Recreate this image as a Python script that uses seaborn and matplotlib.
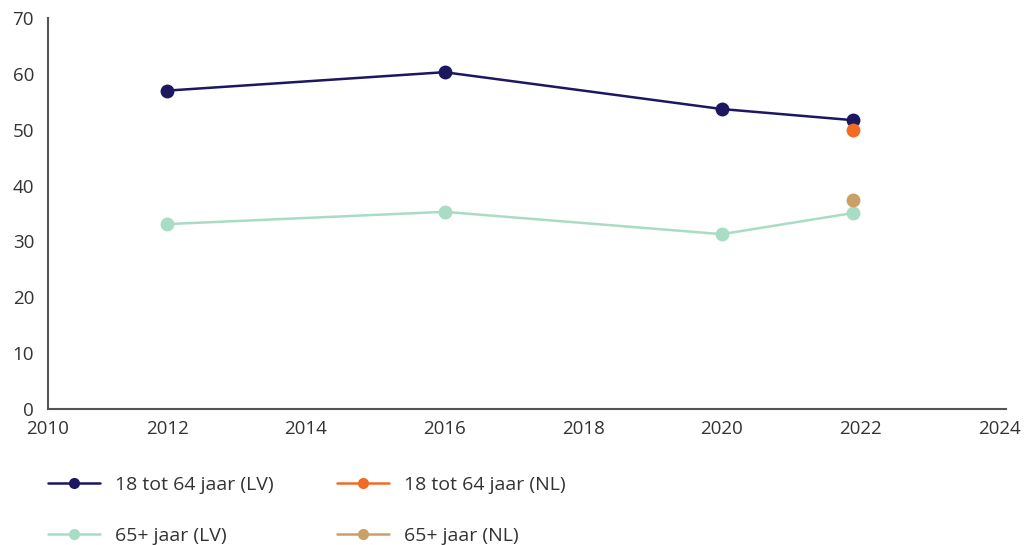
import pandas as pd
import seaborn as sns
import matplotlib.pyplot as plt

# values
years_lv = [2012, 2016, 2020, 2021.9]
young_lv = [57.0, 60.3, 53.7, 51.7]
old_lv = [33.1, 35.3, 31.3, 35.1]
years_nl = [2021.9]
young_nl = [50.0]
old_nl = [37.4]

labels = ["18 tot 64 jaar (LV)", "18 tot 64 jaar (NL)", "65+ jaar (LV)", "65+ jaar (NL)"]
colors = ["#1c1760", "#f26b22", "#a9dcc4", "#c9a066"]

df = pd.concat([
    pd.DataFrame({"jaar": years_lv, "waarde": young_lv, "groep": labels[0]}),
    pd.DataFrame({"jaar": years_nl, "waarde": young_nl, "groep": labels[1]}),
    pd.DataFrame({"jaar": years_lv, "waarde": old_lv, "groep": labels[2]}),
    pd.DataFrame({"jaar": years_nl, "waarde": old_nl, "groep": labels[3]}),
])

sns.set_style("white")
plt.rcParams['font.family'] = ['Open Sans', 'DejaVu Sans']
txt = "#333333"

fig = plt.figure(figsize=(10.29, 5.45), dpi=100)
ax = fig.add_axes([48/1029, 1 - 409/545, (1006-48)/1029, (409-18)/545])

sns.lineplot(data=df, x="jaar", y="waarde", hue="groep", hue_order=labels,
             palette=dict(zip(labels, colors)), marker="o", markersize=10,
             markeredgewidth=0, linewidth=1.8, ax=ax)

# the axis in the source starts a bit after 2010, labelled "2010" at its edge
x_start = 2010.28
ax.set_xlim(x_start, 2024.1)
ax.set_ylim(0, 70)
ax.set_xticks([x_start] + list(range(2012, 2025, 2)))
ax.set_xticklabels([str(y) for y in range(2010, 2025, 2)])
ax.set_yticks(range(0, 71, 10))
ax.set_xlabel("")
ax.set_ylabel("")
for s in ["top", "right"]:
    ax.spines[s].set_visible(False)
for s in ["left", "bottom"]:
    ax.spines[s].set_color("#555555")
    ax.spines[s].set_linewidth(1.5)
ax.tick_params(direction="in", length=8, width=1.2, color="#555555",
               labelsize=13.5, labelcolor=txt)
ax.tick_params(axis="x", pad=8)
ax.tick_params(axis="y", pad=10)
ax.get_xticklines()[0].set_visible(False)

ax.legend_.remove()
h, l = ax.get_legend_handles_labels()
for hh in h:
    hh.set_markersize(8)
order = [0, 2, 1, 3]
fig.legend([h[i] for i in order], [l[i] for i in order], ncol=2,
           loc="upper left", bbox_to_anchor=(30/1029, 1 - 458/545),
           frameon=False, fontsize=14, labelcolor=txt, handlelength=2.7,
           labelspacing=1.7, columnspacing=3.25, handletextpad=0.77)

fig.savefig("out.png", dpi=100)
